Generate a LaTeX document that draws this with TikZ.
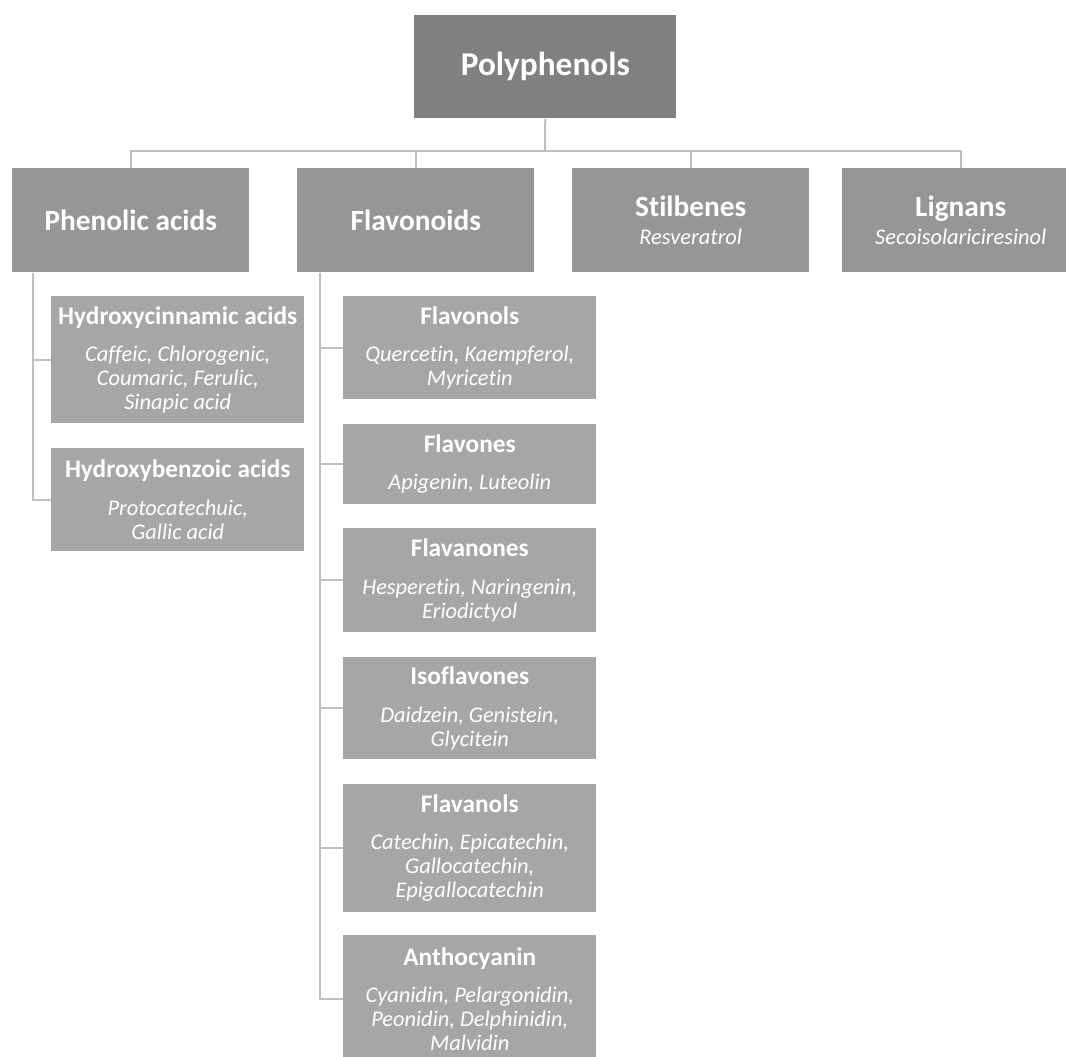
\documentclass[tikz,border=0pt]{standalone}
\usepackage{fontspec}
\setmainfont{Carlito}[Ligatures=NoCommon]
\definecolor{topgray}{RGB}{128,128,128}
\definecolor{maingray}{RGB}{150,150,150}
\definecolor{subgray}{RGB}{166,166,166}
\definecolor{linkgray}{RGB}{191,191,191}
\newcommand{\px}{0.75pt}
\newcommand{\grp}[2]{{\fontsize{19}{19}\selectfont\bfseries\upshape #1}\\[10pt]#2}
\begin{document}
\begin{tikzpicture}[x=0.75pt, y=-0.75pt,
         box/.style={rectangle, anchor=north west, text=white, align=center, inner sep=0pt},
         top/.style={box, fill=topgray, minimum width=262*\px, minimum height=103*\px,
            font=\fontsize{25}{30}\selectfont\bfseries},
         main/.style={box, fill=maingray, minimum width=237*\px, minimum height=104*\px,
            font=\fontsize{22}{21}\selectfont\bfseries},
         sub/.style={box, fill=subgray, minimum width=253*\px,
            font=\fontsize{16.8}{18}\selectfont\itshape},
         link/.style={draw=linkgray, line width=1.5pt}
      ]
   \useasboundingbox (0,0) rectangle (1066,1056);

   \node[top] (poly) at (414,15) {Polyphenols};

   \node[main] (phen) at (12,168) {Phenolic acids};
   \node[main] (flav) at (297,168) {Flavonoids};
   \node[main] (stil) at (572,168) {Stilbenes\\{\fontsize{16.8}{18}\selectfont\mdseries\itshape Resveratrol}};
   \node[main] (lign) at (842,168) {Lignans\\{\fontsize{16.8}{18}\selectfont\mdseries\itshape Secoisolariciresinol}};

   \node[sub, minimum height=127*\px] (hcin) at (51,296)
      {\grp{Hydroxycinnamic acids}{Caffeic, Chlorogenic,\\Coumaric, Ferulic,\\Sinapic acid}};
   \node[sub, minimum height=103*\px] (hben) at (51,448)
      {\grp{Hydroxybenzoic acids}{Protocatechuic,\\Gallic acid}};

   \node[sub, minimum height=103*\px] (flvl) at (343,296)
      {\grp{Flavonols}{Quercetin, Kaempferol,\\Myricetin}};
   \node[sub, minimum height=80*\px] (flvn) at (343,424)
      {\grp{Flavones}{Apigenin, Luteolin}};
   \node[sub, minimum height=104*\px] (flnn) at (343,528)
      {\grp{Flavanones}{Hesperetin, Naringenin,\\Eriodictyol}};
   \node[sub, minimum height=102*\px] (isof) at (343,657)
      {\grp{Isoflavones}{Daidzein, Genistein,\\Glycitein}};
   \node[sub, minimum height=128*\px] (flnl) at (343,784)
      {\grp{Flavanols}{Catechin, Epicatechin,\\Gallocatechin,\\Epigallocatechin}};
   \node[sub, minimum height=128*\px] (anth) at (343,935)
      {\grp{Anthocyanin}{Cyanidin, Pelargonidin,\\Peonidin, Delphinidin,\\Malvidin}};

   \begin{scope}[link]
      \coordinate (bar) at (545,151);
      \draw (poly.south) -- (bar);
      \foreach \n in {phen,flav,stil,lign}
         \draw (bar) -| (\n.north);
      \foreach \n in {hcin,hben}
         \draw ([xshift=21*\px]phen.south west) |- (\n.west);
      \foreach \n in {flvl,flvn,flnn,isof,flnl,anth}
         \draw ([xshift=23*\px]flav.south west) |- (\n.west);
   \end{scope}
\end{tikzpicture}
\end{document}
